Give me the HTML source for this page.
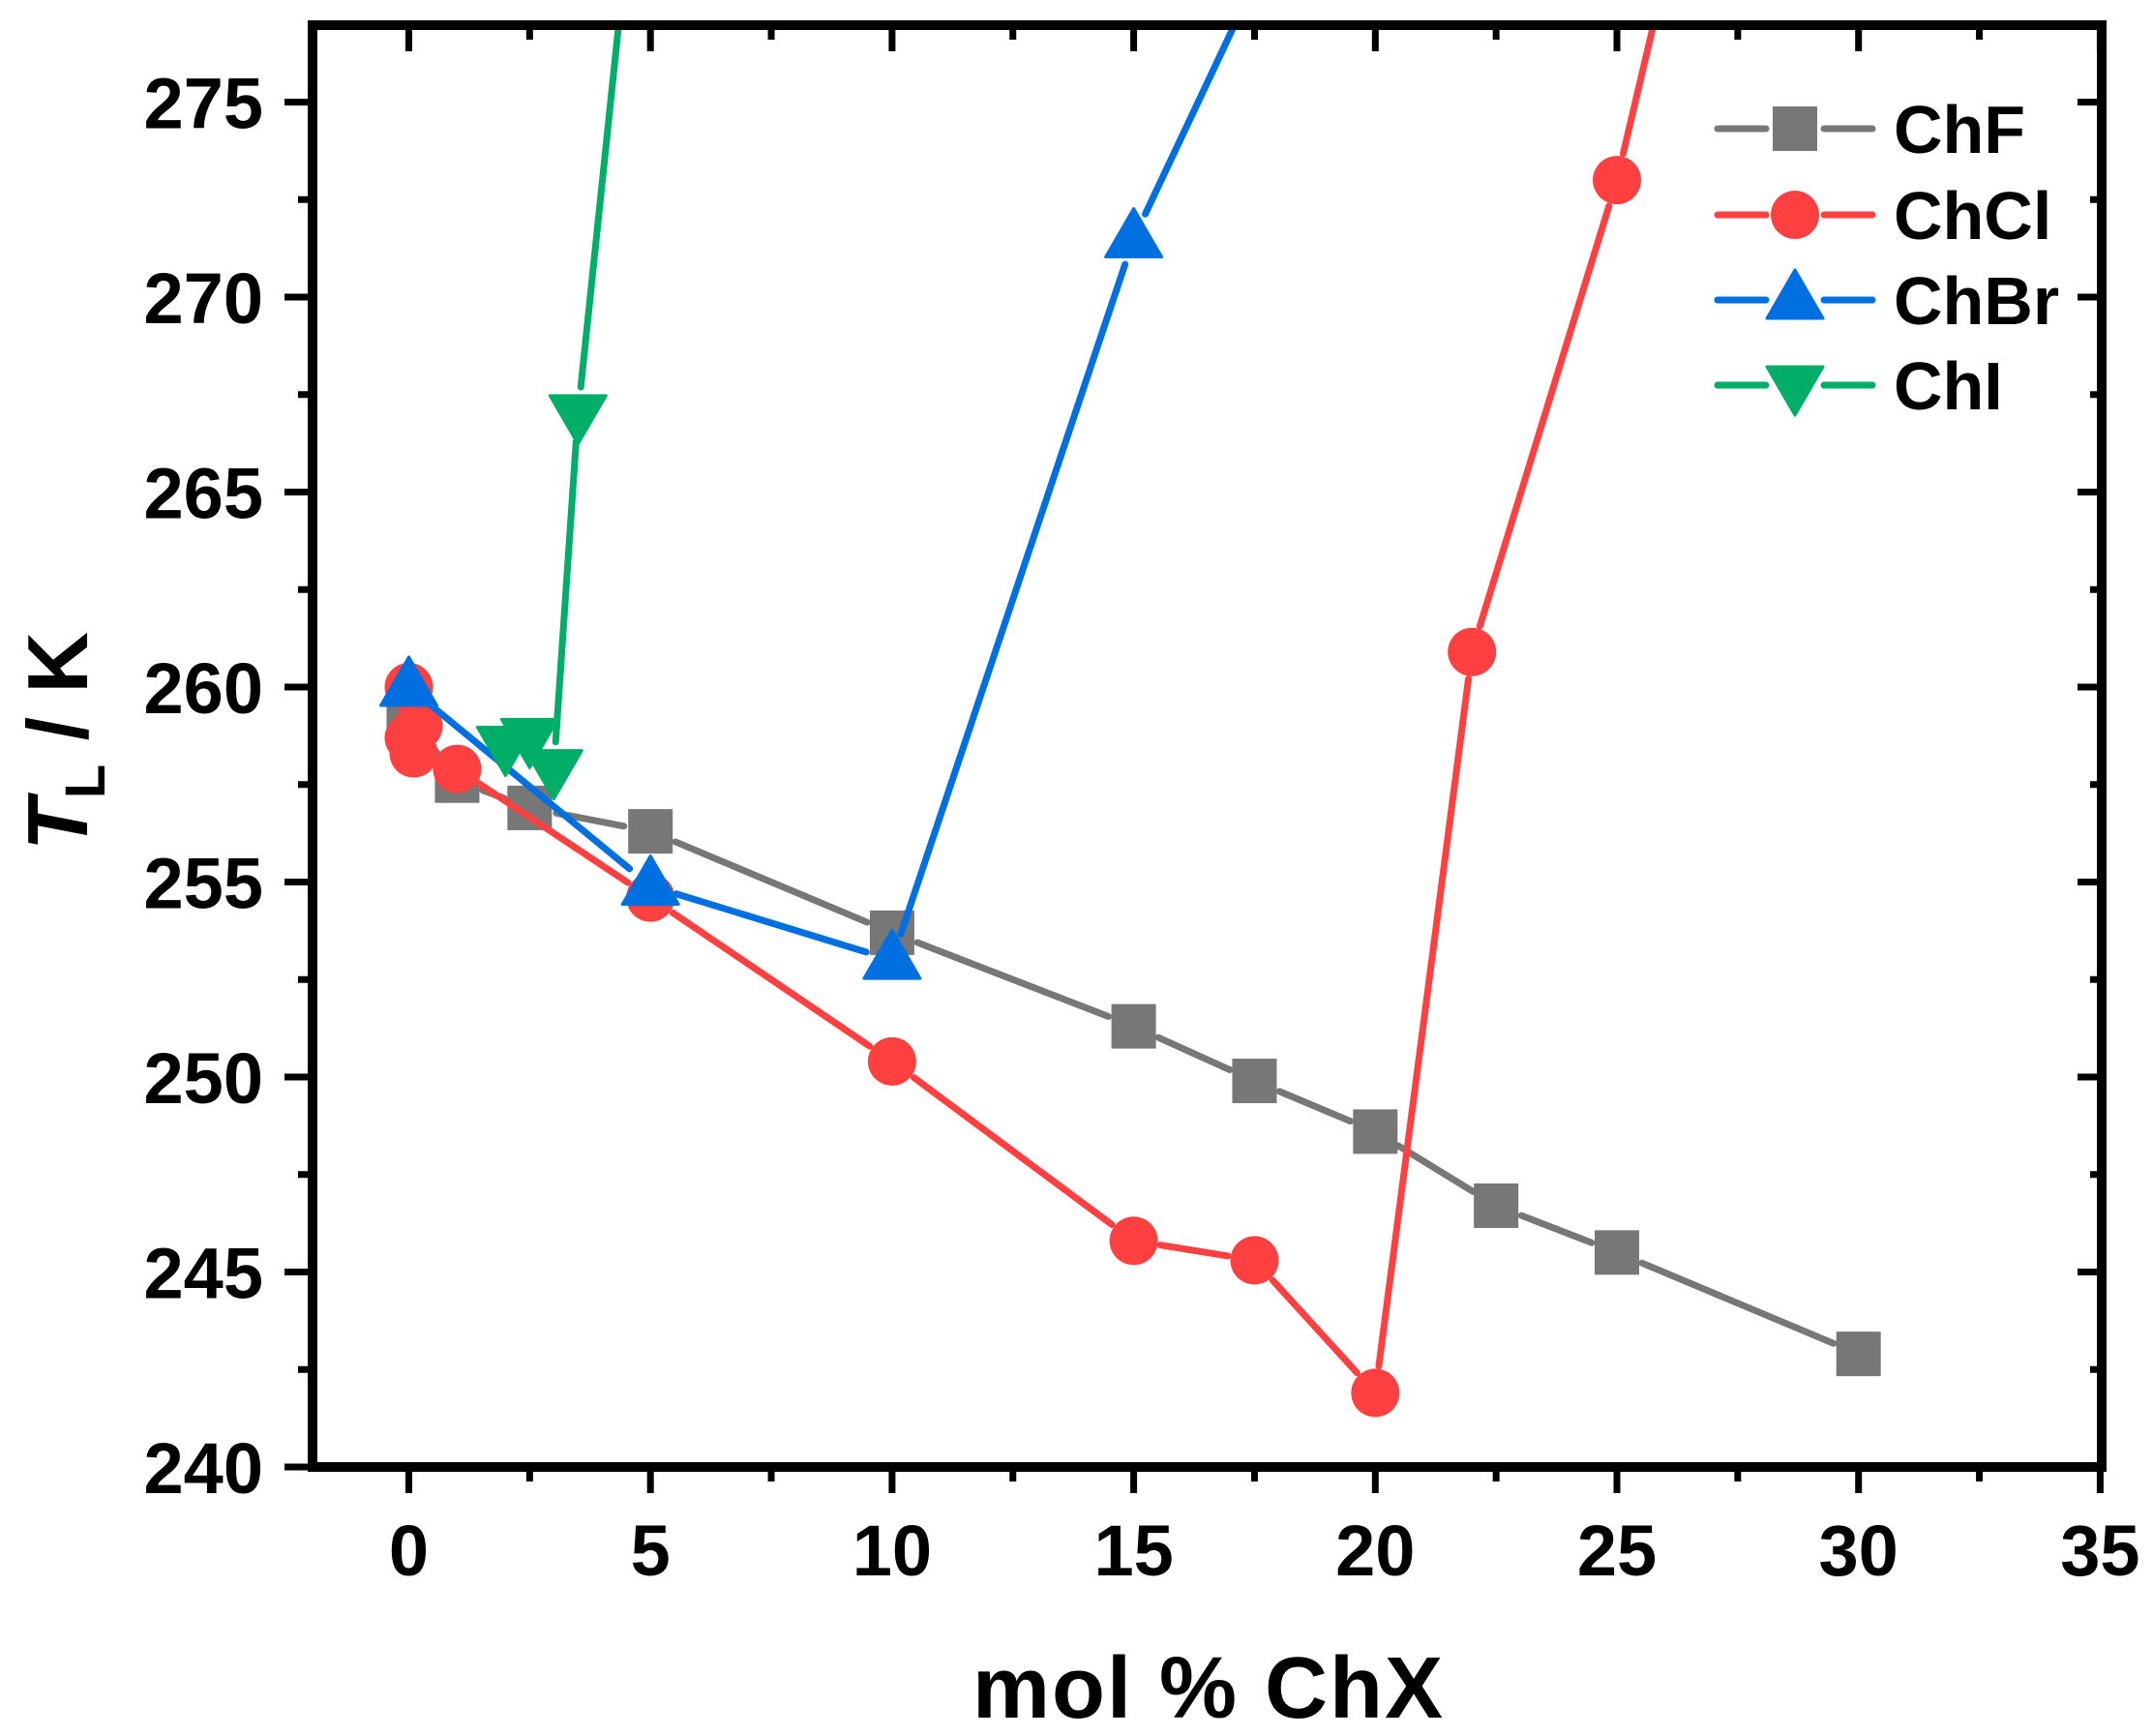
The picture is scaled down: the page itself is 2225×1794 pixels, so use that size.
<!DOCTYPE html>
<html><head><meta charset="utf-8"><style>
html,body{margin:0;padding:0;background:#fff;}
svg{display:block;}
text{font-family:"Liberation Sans",Arial,sans-serif;font-weight:bold;fill:#000;}
</style></head><body>
<svg id="s" width="2225" height="1794" viewBox="0 0 2225 1794" xmlns="http://www.w3.org/2000/svg">
<defs><clipPath id="c"><rect x="323" y="26" width="1849" height="1490"/></clipPath></defs>
<g id="data" clip-path="url(#c)"></g>
<g id="axes"></g>
</svg>
<script>
const NS="http://www.w3.org/2000/svg";
const X=v=>422.5+v*49.94, Y=v=>1516-(v-240)*40.3;
function el(p,t,a,txt){const e=document.createElementNS(NS,t);for(const k in a)e.setAttribute(k,a[k]);if(txt!=null)e.textContent=txt;p.appendChild(e);return e;}
const ax=document.getElementById('axes'), dg=document.getElementById('data');
el(ax,'rect',{x:323,y:26,width:1849,height:1490,fill:'none',stroke:'#000','stroke-width':10});
for(let v=-2.5;v<=35.01;v+=2.5){const x=X(v);if(x<320)continue;const maj=Math.abs(v%5)<1e-6;
 el(ax,'line',{x1:x,y1:1516,x2:x,y2:1516+(maj?27:15),stroke:'#000','stroke-width':7});
 el(ax,'line',{x1:x,y1:26,x2:x,y2:26+(maj?27:15),stroke:'#000','stroke-width':7});
 if(maj) el(ax,'text',{x:x,y:1628,'font-size':74,'text-anchor':'middle'},String(v));}
for(let v=240;v<=277;v+=2.5){const y=Y(v);const maj=Math.abs(v%5)<1e-6;
 el(ax,'line',{x1:323,y1:y,x2:323-(maj?29:15),y2:y,stroke:'#000','stroke-width':7});
 el(ax,'line',{x1:2172,y1:y,x2:2172-(maj?25:12),y2:y,stroke:'#000','stroke-width':7});
 if(maj) el(ax,'text',{x:272,y:y+27,'font-size':74,'text-anchor':'end'},String(v));}
el(ax,'text',{x:1249,y:1775,'font-size':90,'text-anchor':'middle','letter-spacing':2},'mol % ChX');
const yt=el(ax,'text',{transform:'translate(90,766) rotate(-90)','font-size':88,'text-anchor':'middle'});
el(yt,'tspan',{'font-style':'italic'},'T');el(yt,'tspan',{'font-size':58,dy:18},'L');el(yt,'tspan',{dy:-18},' / K');
function marker(g,type,x,y,col){
 if(type==='sq')el(g,'rect',{x:x-23,y:y-23,width:46,height:46,fill:col});
 else if(type==='ci')el(g,'circle',{cx:x,cy:y,r:25,fill:col});
 else if(type==='up')el(g,'polygon',{points:`${x},${y-31} ${x+29},${y+19} ${x-29},${y+19}`,fill:col,stroke:col,'stroke-width':3,'stroke-linejoin':'round'});
 else el(g,'polygon',{points:`${x},${y+31} ${x+29},${y-19} ${x-29},${y-19}`,fill:col,stroke:col,'stroke-width':3,'stroke-linejoin':'round'});}
const series=[
 ['sq','#777777',[[0,259.3],[1,257.6],[2.5,256.9],[5,256.3],[10,253.7],[15,251.3],[17.5,249.9],[20,248.6],[22.5,246.7],[25,245.5],[30,242.9]]],
 ['ci','#ff4040',[[0,260],[0.2,259],[0,258.7],[0.1,258.3],[1,257.9],[5,254.6],[10,250.4],[15,245.8],[17.5,245.3],[20,241.9],[22,260.9],[25,273],[26.9,283]]],
 ['up','#0070e0',[[0,260],[5,254.9],[10,253],[15,271.5],[19,282]]],
 ['dn','#00ae68',[[2,258.5],[2.5,258.7],[3,257.9],[3.5,267],[4.85,283]]]];
for(const [t,col,pts] of series){
 const P=pts.map(p=>[X(p[0]),Y(p[1])]);const g=28;
 for(let i=0;i<P.length-1;i++){const [x1,y1]=P[i],[x2,y2]=P[i+1];const d=Math.hypot(x2-x1,y2-y1);if(d<2*g+4)continue;
  const ux=(x2-x1)/d,uy=(y2-y1)/d;
  el(dg,'line',{x1:x1+ux*g,y1:y1+uy*g,x2:x2-ux*g,y2:y2-uy*g,stroke:col,'stroke-width':7,'stroke-linecap':'round'});}
 P.forEach(p=>{if(p[1]>20)marker(dg,t,p[0],p[1],col);});
}
const L=[['sq','#777777','ChF',133],['ci','#ff4040','ChCl',222],['up','#0070e0','ChBr',310],['dn','#00ae68','ChI',398]];
for(const [t,col,n,y] of L){
 el(ax,'line',{x1:1775,y1:y,x2:1825,y2:y,stroke:col,'stroke-width':7,'stroke-linecap':'round'});
 el(ax,'line',{x1:1885,y1:y,x2:1935,y2:y,stroke:col,'stroke-width':7,'stroke-linecap':'round'});
 marker(ax,t,1855,y,col);
 el(ax,'text',{x:1957,y:y+25,'font-size':70},n);}
</script>
</body></html>
